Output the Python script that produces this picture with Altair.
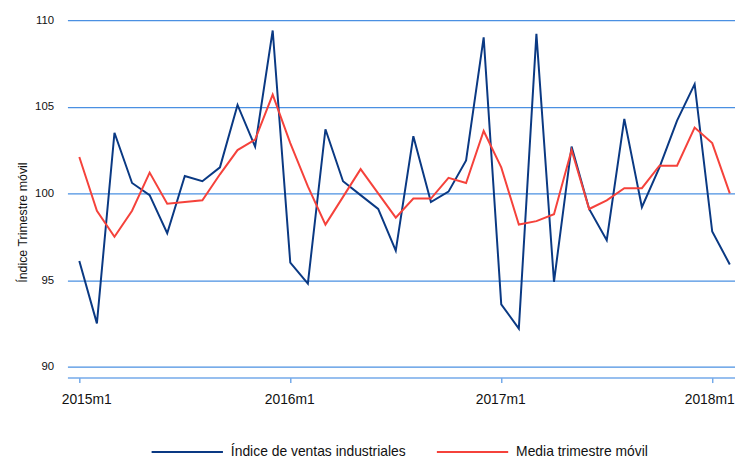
import altair as alt
import pandas as pd

periods = [
    "2015m1", "2015m2", "2015m3", "2015m4", "2015m5", "2015m6", "2015m7", "2015m8", "2015m9", "2015m10", "2015m11", "2015m12",
    "2016m1", "2016m2", "2016m3", "2016m4", "2016m5", "2016m6", "2016m7", "2016m8", "2016m9", "2016m10", "2016m11", "2016m12",
    "2017m1", "2017m2", "2017m3", "2017m4", "2017m5", "2017m6", "2017m7", "2017m8", "2017m9", "2017m10", "2017m11", "2017m12",
    "2018m1", "2018m2",
]
ventas = [96.1, 92.5, 103.5, 100.6, 99.9, 97.7, 101.0, 100.7, 101.5, 105.1, 102.7, 109.4,
          96.0, 94.8, 103.7, 100.7, 99.9, 99.1, 96.7, 103.3, 99.5, 100.1, 101.9, 109.0,
          93.6, 92.2, 109.2, 94.9, 102.7, 99.1, 97.3, 104.3, 99.2, 101.5, 104.2, 106.3,
          97.8, 95.9]
media = [102.1, 99.0, 97.5, 99.0, 101.2, 99.4, 99.5, 99.6, 101.1, 102.5, 103.1, 105.7,
         102.9, 100.4, 98.2, 99.8, 101.4, 100.0, 98.6, 99.7, 99.7, 100.9, 100.6, 103.6,
         101.5, 98.2, 98.4, 98.8, 102.5, 99.1, 99.6, 100.3, 100.3, 101.6, 101.6, 103.8,
         102.9, 100.0]
series_names = ["Índice de ventas industriales", "Media trimestre móvil"]
series_colors = ["#0A3983", "#F5423B"]
tick_labels = ["2015m1", "2016m1", "2017m1", "2018m1"]
y_ticks = [90, 95, 100, 105, 110]

rows = []
for i, p in enumerate(periods):
    rows.append({"t": i, "periodo": p, "valor": ventas[i], "serie": series_names[0]})
    rows.append({"t": i, "periodo": p, "valor": media[i], "serie": series_names[1]})
df = pd.DataFrame(rows)

tick_idx = [periods.index(l) for l in tick_labels]
label_expr = " : ".join(f"datum.value == {i} ? '{l}'" for i, l in zip(tick_idx, tick_labels)) + " : ''"

FONT = "Liberation Sans"
GRID = "#4A90E2"
AXIS = "#74AAEA"

chart = alt.Chart(df).mark_line(strokeWidth=2).encode(
    x=alt.X(
        "t:Q",
        scale=alt.Scale(domain=[-0.676, 37.296], nice=False, zero=False),
        axis=alt.Axis(
            values=tick_idx,
            labelExpr=label_expr,
            title=None,
            grid=False,
            offset=11,
            domainColor=AXIS,
            domainWidth=1.5,
            tickColor=AXIS,
            tickWidth=1.5,
            tickSize=5,
            labelFont=FONT,
            labelFontSize=14,
            labelColor="#111111",
            labelPadding=10,
            labelOffset={
                "condition": [
                    {"test": f"datum.value == {tick_idx[0]}", "value": 7},
                    {"test": f"datum.value == {tick_idx[-1]}", "value": -3},
                ],
                "value": -1,
            },
        ),
    ),
    y=alt.Y(
        "valor:Q",
        scale=alt.Scale(domain=[90, 110], nice=False, zero=False),
        axis=alt.Axis(
            values=y_ticks,
            title="Índice Trimestre móvil",
            titleFont=FONT,
            titleFontSize=12.5,
            titleFontWeight="normal",
            titleColor="#111111",
            titleX=-41.5,
            titleY=204,
            titleAngle=270,
            titleAlign="center",
            titleBaseline="alphabetic",
            domain=False,
            ticks=False,
            grid=True,
            gridColor=GRID,
            gridWidth=1.3,
            labelFont=FONT,
            labelFontSize=11.5,
            labelColor="#111111",
            labelPadding=14,
        ),
    ),
    color=alt.Color(
        "serie:N",
        scale=alt.Scale(domain=series_names, range=series_colors),
        legend=alt.Legend(
            orient="none",
            legendX=84,
            legendY=399,
            direction="horizontal",
            title=None,
            symbolType="stroke",
            symbolSize=5184,
            symbolStrokeWidth=2,
            labelFont=FONT,
            labelFontSize=14,
            labelColor="#111111",
            labelOffset=7,
            labelLimit=400,
            columnPadding=27,
            padding=0,
        ),
    ),
    order="t:Q",
).properties(
    width=674,
    height=350,
    autosize=alt.AutoSizeParams(type="none"),
    padding={"left": 60, "top": 10, "right": 0, "bottom": 91},
).configure_view(stroke=None)

chart.save("out.html", embed_options={"renderer": "svg", "actions": False})
